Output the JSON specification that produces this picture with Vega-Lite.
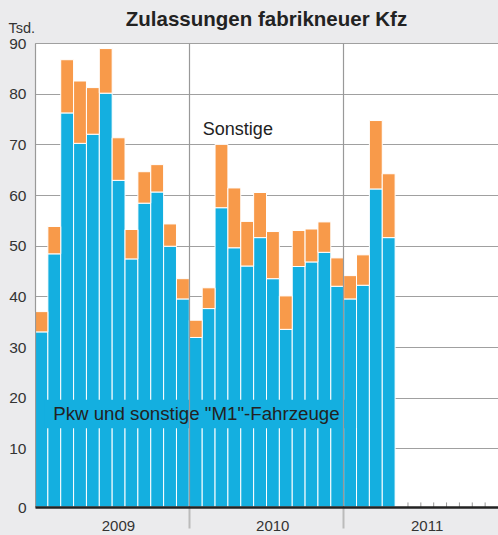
{
  "$schema": "https://vega.github.io/schema/vega-lite/v6.json",
  "width": 463,
  "height": 464,
  "autosize": "none",
  "padding": {"left": 35, "top": 43, "right": 0, "bottom": 28},
  "background": "#ebebed",
  "view": {"fill": "white", "stroke": null},
  "config": {"font": "Liberation Sans"},
  "title": {"text": "Zulassungen fabrikneuer Kfz", "fontSize": 20.5, "fontWeight": "bold", "color": "#222222", "frame": "group", "anchor": "middle", "baseline": "alphabetic", "offset": -26},
  "datasets": {
    "monate": [
      {"monat": "2009-01", "pkw": 33.0, "gesamt": 37.0},
      {"monat": "2009-02", "pkw": 48.4, "gesamt": 53.8},
      {"monat": "2009-03", "pkw": 76.2, "gesamt": 86.7},
      {"monat": "2009-04", "pkw": 70.2, "gesamt": 82.5},
      {"monat": "2009-05", "pkw": 72.0, "gesamt": 81.2},
      {"monat": "2009-06", "pkw": 80.1, "gesamt": 88.9},
      {"monat": "2009-07", "pkw": 62.9, "gesamt": 71.3},
      {"monat": "2009-08", "pkw": 47.4, "gesamt": 53.2},
      {"monat": "2009-09", "pkw": 58.4, "gesamt": 64.6},
      {"monat": "2009-10", "pkw": 60.6, "gesamt": 66.0},
      {"monat": "2009-11", "pkw": 49.9, "gesamt": 54.3},
      {"monat": "2009-12", "pkw": 39.5, "gesamt": 43.5},
      {"monat": "2010-01", "pkw": 31.9, "gesamt": 35.3},
      {"monat": "2010-02", "pkw": 37.6, "gesamt": 41.7},
      {"monat": "2010-03", "pkw": 57.5, "gesamt": 70.0},
      {"monat": "2010-04", "pkw": 49.6, "gesamt": 61.4},
      {"monat": "2010-05", "pkw": 46.0, "gesamt": 54.8},
      {"monat": "2010-06", "pkw": 51.6, "gesamt": 60.5},
      {"monat": "2010-07", "pkw": 43.5, "gesamt": 52.8},
      {"monat": "2010-08", "pkw": 33.5, "gesamt": 40.1},
      {"monat": "2010-09", "pkw": 45.9, "gesamt": 53.0},
      {"monat": "2010-10", "pkw": 46.8, "gesamt": 53.3},
      {"monat": "2010-11", "pkw": 48.7, "gesamt": 54.7},
      {"monat": "2010-12", "pkw": 42.0, "gesamt": 47.6},
      {"monat": "2011-01", "pkw": 39.5, "gesamt": 44.1},
      {"monat": "2011-02", "pkw": 42.2, "gesamt": 48.2},
      {"monat": "2011-03", "pkw": 61.2, "gesamt": 74.7},
      {"monat": "2011-04", "pkw": 51.6, "gesamt": 64.2}
    ],
    "leer": [
      {"monat": "2011-06"}, {"monat": "2011-07"}, {"monat": "2011-08"}, {"monat": "2011-09"},
      {"monat": "2011-10"}, {"monat": "2011-11"}, {"monat": "2011-12"}
    ],
    "notiz": [{"text": "Notiz"}]
  },
  "layer": [
    {
      "data": {"name": "monate"},
      "mark": {"type": "bar", "color": "#14afe0", "stroke": "white", "strokeWidth": 1},
      "encoding": {
        "x": {
          "field": "monat", "type": "ordinal",
          "scale": {"domain": ["2009-01","2009-02","2009-03","2009-04","2009-05","2009-06","2009-07","2009-08","2009-09","2009-10","2009-11","2009-12","2010-01","2010-02","2010-03","2010-04","2010-05","2010-06","2010-07","2010-08","2010-09","2010-10","2010-11","2010-12","2011-01","2011-02","2011-03","2011-04","2011-05","2011-06","2011-07","2011-08","2011-09","2011-10","2011-11","2011-12"], "paddingInner": 0, "paddingOuter": 0},
          "axis": {
            "title": null, "values": ["2009-01", "2010-01", "2011-01"], "bandPosition": 0,
            "grid": true, "gridColor": "#999999", "gridWidth": 1.2,
            "ticks": true, "tickSize": 21, "tickWidth": 2,
            "tickColor": {"condition": {"test": "datum.value == '2009-01'", "value": "transparent"}, "value": "#bbbbbb"},
            "labelExpr": "substring(datum.value, 0, 4)", "labelOffset": 77, "labelAngle": 0,
            "labelPadding": -10, "labelBaseline": "top", "labelFontSize": 15, "labelColor": "#333333",
            "domainColor": "#222222", "domainWidth": 2.5, "zindex": 1
          }
        },
        "y": {
          "field": "pkw", "type": "quantitative",
          "scale": {"domain": [-1.55, 90], "nice": false, "zero": false},
          "axis": {
            "values": [-1.55, 10, 20, 30, 40, 50, 60, 70, 80, 90],
            "labelExpr": "datum.value < 0 ? '0' : datum.label",
            "grid": true, "gridColor": "#a0a0a0", "gridWidth": 1,
            "ticks": false, "labelPadding": 9, "labelFontSize": 15.5, "labelColor": "#333333",
            "domain": true, "domainColor": "#999999", "domainWidth": 1,
            "title": "Tsd.", "titleAngle": 0, "titleX": -27, "titleY": -11, "titleAlign": "left",
            "titleBaseline": "alphabetic", "titleFontWeight": "normal", "titleFontSize": 14.5, "titleColor": "#333333"
          }
        },
        "y2": {"datum": -1.55}
      }
    },
    {
      "data": {"name": "monate"},
      "mark": {"type": "bar", "color": "#f89a4a", "stroke": "white", "strokeWidth": 1},
      "encoding": {
        "x": {"field": "monat", "type": "ordinal"},
        "y": {"field": "gesamt", "type": "quantitative"},
        "y2": {"field": "pkw"}
      }
    },
    {
      "data": {"name": "leer"},
      "mark": {"type": "rule", "color": "#999999", "strokeWidth": 1},
      "encoding": {
        "x": {"field": "monat", "type": "ordinal", "bandPosition": 0},
        "y": {"datum": -1.55},
        "y2": {"datum": -0.65}
      }
    },
    {
      "data": {"name": "notiz"},
      "mark": {"type": "rect", "color": "#14afe0", "x2Offset": 6},
      "encoding": {
        "x": {"datum": "2009-01", "type": "ordinal", "bandPosition": 0.75},
        "x2": {"datum": "2011-01"},
        "y": {"datum": 14.0},
        "y2": {"datum": 19.6}
      }
    },
    {
      "data": {"name": "notiz"},
      "mark": {"type": "text", "text": "Pkw und sonstige \"M1\"-Fahrzeuge", "fontSize": 18.7, "color": "#222222", "align": "center", "baseline": "middle"},
      "encoding": {
        "x": {"datum": "2010-01", "type": "ordinal", "bandPosition": 0.55},
        "y": {"datum": 16.8}
      }
    },
    {
      "data": {"name": "notiz"},
      "mark": {"type": "text", "text": "Sonstige", "fontSize": 18, "color": "#222222", "align": "left", "baseline": "middle"},
      "encoding": {
        "x": {"datum": "2010-02", "type": "ordinal", "bandPosition": 0.05},
        "y": {"datum": 72.8}
      }
    }
  ]
}
